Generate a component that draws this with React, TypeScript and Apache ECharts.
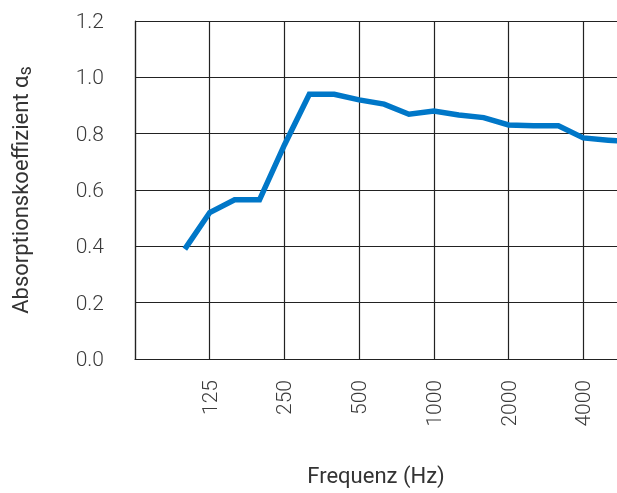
import React, { useEffect, useRef } from "react";
import * as echarts from "echarts";

// Third-octave band centre frequencies (Hz) and read absorption values
const bands = [100, 125, 160, 200, 250, 315, 400, 500, 630, 800, 1000, 1250, 1600, 2000, 2500, 3150, 4000, 5000, 6300];
const alphaS = [0.39, 0.52, 0.565, 0.565, 0.76, 0.94, 0.94, 0.92, 0.905, 0.869, 0.88, 0.866, 0.857, 0.831, 0.828, 0.828, 0.785, 0.777, 0.77];

// Octave tick labels (axis positions in third-octave steps from 62.5 Hz)
const tickLabels = ["", "125", "250", "500", "1000", "2000", "4000", ""];
const yTicks = ["0.0", "0.2", "0.4", "0.6", "0.8", "1.0", "1.2"];

const bandIndex = (f: number) => Math.round(3 * Math.log2(f / 62.5));

export default function App() {
  const ref = useRef<HTMLDivElement>(null);
  useEffect(() => {
    if (!ref.current) return;
    const chart = echarts.init(ref.current, null, { renderer: "svg" });
    const font = "Roboto";
    const textColor = "#3a3a3a";
    chart.setOption({
      animation: false,
      grid: { left: 135, right: -41, top: 21, bottom: 134, containLabel: false, outerBoundsMode: "none" },
      xAxis: {
        type: "value",
        min: 0,
        max: 21,
        interval: 3,
        axisLine: { show: true, lineStyle: { color: "#222", width: 1.2 } },
        axisTick: { show: false },
        splitLine: { show: true, lineStyle: { color: "#222", width: 1.2 } },
        axisLabel: {
          rotate: 90,
          margin: 21,
          fontFamily: font,
          fontWeight: 300,
          fontSize: 21,
          color: textColor,
          formatter: (v: number) => tickLabels[Math.round(v / 3)] ?? "",
        },
      },
      yAxis: {
        type: "value",
        min: 0,
        max: 1.2,
        interval: 0.2,
        name: "{a|Absorptionskoeffizient α}{s|s}",
        nameLocation: "middle",
        nameGap: 102,
        nameTextStyle: {
          rich: {
            a: { fontFamily: font, fontSize: 22, color: "#333", fontWeight: 400 },
            s: { fontFamily: font, fontSize: 18, color: "#333", verticalAlign: "bottom", padding: [8, 0, 0, 0] },
          },
        },
        axisLine: { show: true, lineStyle: { color: "#222", width: 1.2 } },
        axisTick: { show: false },
        splitLine: { show: true, lineStyle: { color: "#222", width: 1.2 } },
        axisLabel: {
          margin: 31,
          fontFamily: font,
          fontWeight: 300,
          fontSize: 21,
          color: textColor,
          formatter: (v: number) => yTicks[Math.round(v / 0.2)] ?? "",
        },
      },
      graphic: [
        {
          type: "text",
          x: 376,
          y: 475,
          style: { text: "Frequenz (Hz)", fontFamily: font, fontSize: 22, fill: "#333", align: "center", verticalAlign: "middle" },
        },
      ],
      series: [
        {
          type: "line",
          data: bands.map((f, i) => [bandIndex(f), alphaS[i]]),
          showSymbol: false,
          symbol: "none",
          lineStyle: { color: "#0077c8", width: 5.5, join: "miter" },
          clip: true,
        },
      ],
    });
    return () => chart.dispose();
  }, []);
  return <div ref={ref} style={{ position: "fixed", left: 0, top: 0, width: 617, height: 493 }} />;
}
